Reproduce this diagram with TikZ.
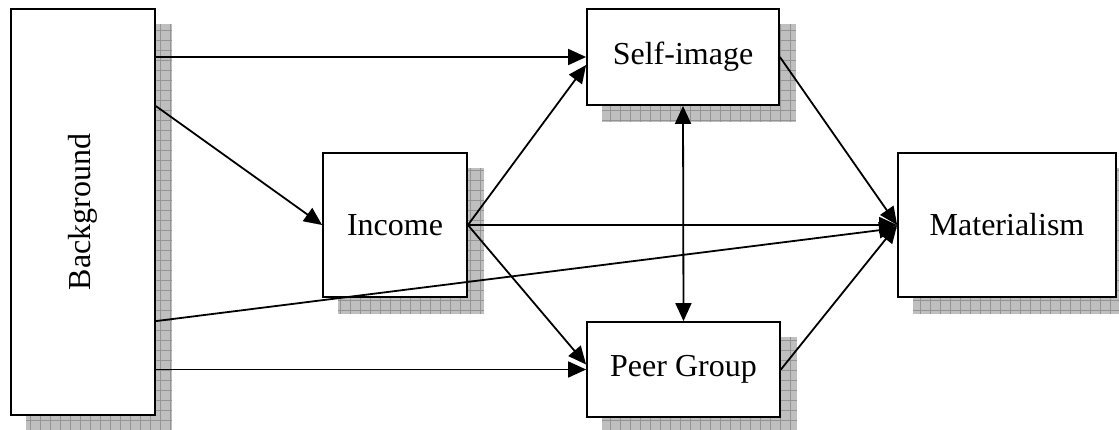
\documentclass[tikz,border=0pt]{standalone}
\usepackage{fontspec}
\setmainfont{Liberation Serif}
\usetikzlibrary{arrows.meta,calc}
\pgfdeclarelayer{background}
\pgfsetlayers{background,main}
\tikzset{
  box/.style={draw=black, line width=1.8pt, fill=white, inner sep=0pt,
    font=\fontsize{32}{38}\selectfont},
  tip/.tip={Triangle[length=18pt,width=16pt]},
  arr/.style={line width=1.8pt, -tip},
  darr/.style={line width=1.8pt, tip-tip},
  shadowfill/.style={fill=black!25},
  shadowgrid/.style={draw=black!42, line width=0.5pt},
}
\newcommand{\boxshadow}[1]{%
  \begin{pgfonlayer}{background}
    \begin{scope}
      \clip ($(#1.north west)+(16,16)$) rectangle ($(#1.south east)+(16,16)$);
      \fill[shadowfill] ($(#1.north west)+(16,16)$) rectangle ($(#1.south east)+(16,16)$);
      \draw[shadowgrid, step=10pt] ($(#1.north west)+(16,16)$) grid ($(#1.south east)+(16,16)$);
    \end{scope}
  \end{pgfonlayer}}
\begin{document}
\begin{tikzpicture}[x=1pt,y=-1pt]
\useasboundingbox (0,0) rectangle (1119,430);
\node[box, minimum width=144pt, minimum height=406pt] (bg) at (83,212) {};
\node[rotate=90, font=\fontsize{32}{38}\selectfont] (bgt) at (bg.center) {Background};
\node[box, minimum width=192pt, minimum height=96pt] (si) at (683,57) {Self-image};
\node[box, minimum width=193pt, minimum height=95pt] (pg) at (683.5,369.5) {Peer Group};
\node[box, minimum width=144pt, minimum height=144pt] (inc) at (395,225) {Income};
\node[box, minimum width=218pt, minimum height=144pt] (mat) at (1007,225) {Materialism};
\boxshadow{bg}
\boxshadow{si}
\boxshadow{pg}
\boxshadow{inc}
\boxshadow{mat}
\coordinate (b1) at ($(bg.north east)+(0,98)$);
\coordinate (b2) at ($(bg.north east)+(0,313)$);
\draw[arr] (bg.east |- si.west) -- (si.west);
\draw[arr] (b1) -- (inc.west);
\draw[arr] (b2) -- ($(mat.west)+(0,3)$);
\draw[arr] (bg.east |- pg.west) -- (pg.west);
\draw[arr] (inc.east) -- ($(si.west)+(0,8)$);
\draw[arr] (inc.east) -- (mat.west);
\draw[arr] (inc.east) -- ($(pg.west)+(0,-5)$);
\draw[arr] (si.east) -- (mat.west);
\draw[arr] (pg.east) -- (mat.west);
\draw[darr] (si.south) -- (pg.north);
\end{tikzpicture}
\end{document}
